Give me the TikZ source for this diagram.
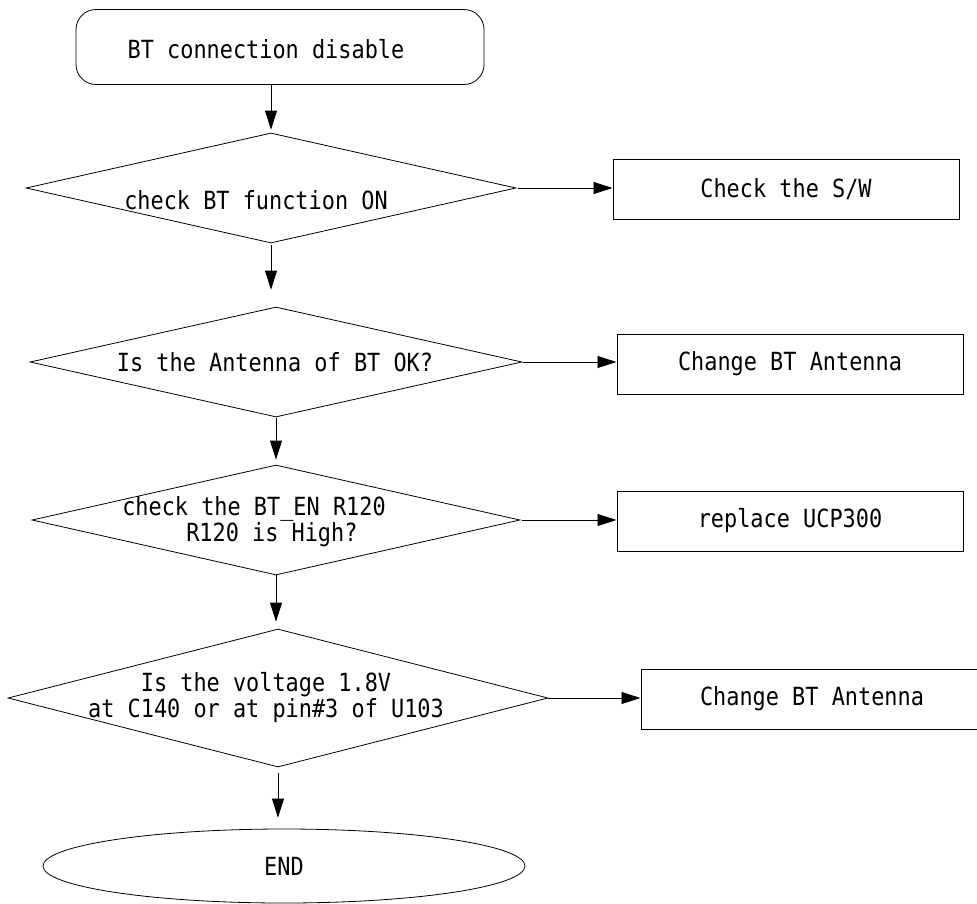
\documentclass[tikz,border=0pt]{standalone}
\usepackage{fontspec}
\newfontfamily\chartfont[FakeStretch=0.875]{DejaVu Sans Mono}
\usetikzlibrary{shapes.geometric,arrows.meta}

\begin{document}
\begin{tikzpicture}[
        x=1pt, y=-1pt,
        every node/.style={font=\chartfont\fontsize{25}{26}\selectfont},
        flow/.style={draw, line width=0.8pt, inner sep=0pt},
        startbox/.style={flow, rectangle, rounded corners=20pt},
        decision/.style={flow, diamond},
        actionbox/.style={flow, rectangle, line width=1pt, minimum width=346pt, minimum height=60pt},
        endbox/.style={flow, ellipse},
        link/.style={line width=0.8pt, -{Triangle[length=19pt,width=12pt]}},
    ]
        \useasboundingbox (0,0) rectangle (977,903);

        \node[startbox, minimum width=408pt, minimum height=75pt,
            label={[xshift=-14pt,yshift=-2pt]center:BT connection disable}] (start) at (280,47) {};

        \node[decision, minimum width=490pt, minimum height=110pt,
            label={[xshift=-15pt,yshift=-12pt]center:check BT function ON}] (d1) at (271,188) {};
        \node[decision, minimum width=492pt, minimum height=110pt,
            label={[xshift=-1pt]center:Is the Antenna of BT OK?}] (d2) at (276,362) {};
        \node[decision, minimum width=488pt, minimum height=110pt,
            label={[align=left,xshift=-22pt,yshift=-2pt]center:{check the BT\_EN R120\\\hspace*{64pt}R120 is High?}}] (d3) at (276,520) {};
        \node[decision, minimum width=540pt, minimum height=138pt,
            label={[align=center,xshift=-12pt]center:{Is the voltage 1.8V\\at C140 or at pin\#3 of U103}}] (d4) at (278,698) {};

        \node[actionbox] (sw) at (786,189) {Check the S/W};
        \node[actionbox] (antenna) at (790,364) {Change BT Antenna};
        \node[actionbox] (ucp) at (790,521) {replace UCP300};
        \node[actionbox, minimum width=342pt] (antenna2) at (812,699) {Change BT Antenna};

        \node[endbox, minimum width=482pt, minimum height=74pt] (end) at (284,866) {END};

        \draw[link, shorten >=3pt] (start.south -| d1.north) -- (d1.north);
        \draw[link, shorten <=2pt, shorten >=17pt] (d1.south) -- (d1.south |- d2.north);
        \draw[link, shorten <=1pt, shorten >=5pt] (d2.south) -- (d2.south |- d3.north);
        \draw[link, shorten >=7pt] (d3.south) -- (d3.south |- d4.north);
        \draw[link, shorten <=6pt, shorten >=11pt] (d4.south) -- (d4.south |- end.north);

        \draw[link, shorten <=2pt] (d1.east) -- (d1.east -| sw.west);
        \draw[link, shorten <=1pt] (d2.east) -- (d2.east -| antenna.west);
        \draw[link, shorten <=2pt] (d3.east) -- (d3.east -| ucp.west);
        \draw[link] (d4.east) -- (d4.east -| antenna2.west);
\end{tikzpicture}
\end{document}
